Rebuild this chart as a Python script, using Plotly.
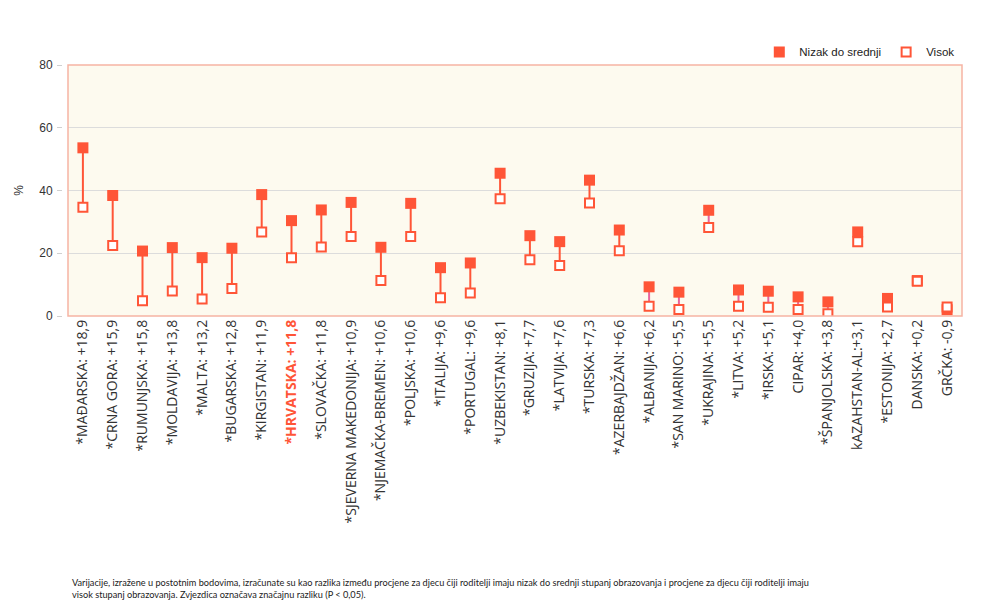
import plotly.graph_objects as go

countries = ["*MAĐARSKA: +18,9", "*CRNA GORA: +15,9", "*RUMUNJSKA: +15,8", "*MOLDAVIJA: +13,8",
             "*MALTA: +13,2", "*BUGARSKA: +12,8", "*KIRGISTAN: +11,9", "*HRVATSKA: +11,8",
             "*SLOVAČKA: +11,8", "*SJEVERNA MAKEDONIJA: +10,9", "*NJEMAČKA-BREMEN: +10,6",
             "*POLJSKA: +10,6", "*ITALIJA: +9,6", "*PORTUGAL: +9,6", "*UZBEKISTAN: +8,1",
             "*GRUZIJA: +7,7", "*LATVIJA: +7,6", "*TURSKA: +7,3", "*AZERBAJDŽAN: +6,6",
             "*ALBANIJA: +6,2", "*SAN MARINO: +5,5", "*UKRAJINA: +5,5", "*LITVA: +5,2",
             "*IRSKA: +5,1", "CIPAR: +4,0", "*ŠPANJOLSKA: +3,8", "kAZAHSTAN-AL:+3,1",
             "*ESTONIJA: +2,7", "DANSKA: +0,2", "GRČKA: -0,9"]

nizak = [53.6, 38.4, 20.7, 21.8, 18.6, 21.6, 38.7, 30.4, 33.8, 36.2, 21.9, 35.9, 15.4, 16.9,
         45.5, 25.6, 23.7, 43.3, 27.4, 9.3, 7.6, 33.7, 8.3, 7.9, 6.1, 4.5, 26.8, 5.6, 11.3, 2.0]
visok = [34.7, 22.5, 4.9, 8.0, 5.4, 8.8, 26.8, 18.6, 22.0, 25.3, 11.3, 25.3, 5.8, 7.3,
         37.4, 17.9, 16.1, 36.0, 20.8, 3.1, 2.1, 28.2, 3.1, 2.8, 2.1, 0.7, 23.7, 2.9, 11.1, 2.9]

highlight = "*HRVATSKA: +11,8"
y_ticks = [0, 20, 40, 60, 80]

RED = "#ff5537"
PINK = "#e8649c"
FRAME = "#f6b4a4"

tick_text = [f"<b><span style='color:{RED}'>{c}</span></b>" if c == highlight else c for c in countries]

fig = go.Figure()

# connecting segments
seg = {RED: ([], []), PINK: ([], [])}
for c, a, b in zip(countries, nizak, visok):
    col = RED if abs(a - b) > 6.4 else PINK
    seg[col][0].extend([c, c, None])
    seg[col][1].extend([a, b, None])
for col, (xs, ys) in seg.items():
    fig.add_trace(go.Scatter(x=xs, y=ys, mode="lines", line=dict(color=col, width=2),
                             showlegend=False, hoverinfo="skip", connectgaps=False))

fig.add_trace(go.Scatter(x=countries, y=nizak, mode="markers", name="Nizak do srednji",
                         marker=dict(symbol="square", size=11, color=RED,
                                     line=dict(width=0))))
fig.add_trace(go.Scatter(x=countries, y=visok, mode="markers", name="Visok",
                         marker=dict(symbol="square", size=9, color="white",
                                     line=dict(width=2, color=RED))))

fig.update_layout(
    width=1000, height=600,
    margin=dict(l=54, r=46, t=57, b=292),
    paper_bgcolor="white",
    plot_bgcolor="#fdfaef",
    font=dict(family="Liberation Sans, Arial", size=12, color="#333"),
    legend=dict(orientation="h", x=0.997, xanchor="right", y=1.052, yanchor="middle",
                font=dict(size=11.5, color="#222"), itemwidth=30, traceorder="normal",
                bgcolor="rgba(0,0,0,0)", tracegroupgap=0),
    xaxis=dict(type="category", categoryorder="array", categoryarray=countries,
               tickmode="array", tickvals=countries, ticktext=tick_text,
               tickangle=-90, tickfont=dict(family="Open Sans", size=14, color="#333"),
               showgrid=False, showline=False, ticks="", automargin=False,
               domain=[6 / 900, 1], range=[-0.5, len(countries) - 0.5]),
    yaxis=dict(range=[0, 80], tickvals=y_ticks, showgrid=True, gridcolor="#dcdcdc",
               gridwidth=1, zeroline=False, showline=False, anchor="free", position=0,
               ticks="outside", ticklen=5, tickcolor="#d0d0d0", ticklabelstandoff=2,
               tickfont=dict(size=12, color="#333"), automargin=False,
               title=dict(text="%", font=dict(size=12, color="#333"), standoff=12)),
)

# plot frame
fig.add_shape(type="rect", xref="x domain", yref="y domain", x0=0, x1=1, y0=0, y1=1,
              line=dict(color=FRAME, width=1.5), layer="above")

fig.add_annotation(
    xref="paper", yref="paper", x=0.009, y=-1.03, xanchor="left", yanchor="top",
    align="left", showarrow=False,
    text=("Varijacije, izražene u postotnim bodovima, izračunate su kao razlika između procjene za djecu čiji "
          "roditelji imaju nizak do srednji stupanj obrazovanja i procjene za djecu čiji roditelji imaju<br>"
          "visok stupanj obrazovanja. Zvjezdica označava značajnu razliku (P &lt; 0,05)."),
    font=dict(family="Lato", size=9.2, color="#222"),
)

fig.write_html("out.html")
